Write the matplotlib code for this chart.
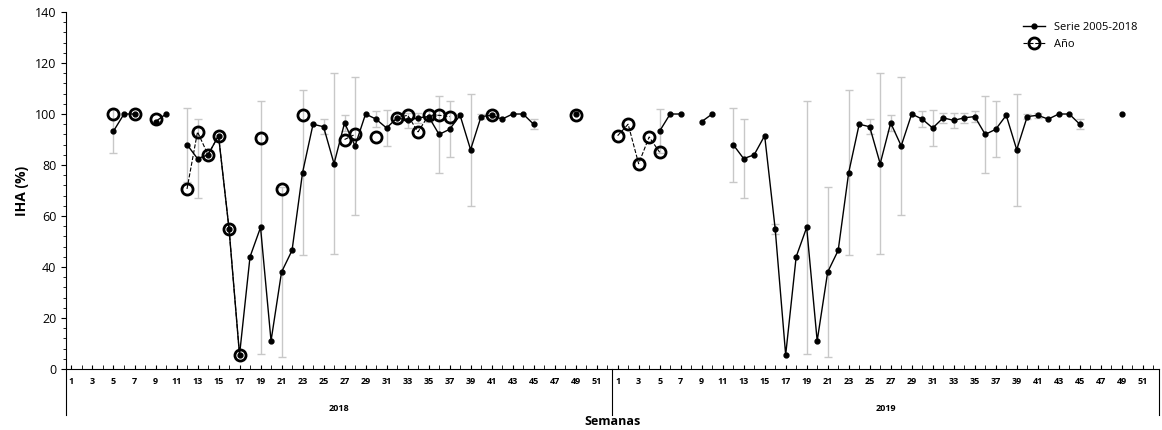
import numpy as np
import matplotlib.pyplot as plt
import matplotlib.transforms as mtransforms

nan = np.nan
weeks = np.arange(1, 53)

# 2005-2018 weekly mean (same pattern for both years)
serie = [nan, nan, nan, nan, 93.3, 100, 100, nan, 97, 100,
         nan, 88, 82.5, 84, 91.5, 55, 5.5, 44, 55.5, 11,
         38, 46.5, 77, 96, 95, 80.5, 96.5, 87.5, 100, 98,
         94.5, 98.5, 97.5, 98.5, 99, 92, 94, 99.5, 86, 99,
         99.5, 98, 100, 100, 96, nan, nan, nan, 100, nan,
         nan, nan]
desv = [0, 0, 0, 0, 8.5, 0, 0, 0, 0, 0,
        0, 14.5, 15.5, 0, 0, 2, 0, 0, 49.5, 0,
        33.5, 0, 32.5, 0, 3, 35.5, 3, 27, 0, 3,
        7, 2, 3, 2, 2, 15, 11, 0, 22, 1,
        1, 0, 0, 0, 2, 0, 0, 0, 0, 0,
        0, 0]

anio_2018 = {5: 100, 7: 100, 9: 98, 12: 70.6, 13: 93, 14: 84, 15: 91.5, 16: 55,
             17: 5.5, 19: 90.5, 21: 70.6, 23: 99.5, 27: 90, 28: 92, 30: 91,
             32: 98.5, 33: 99.5, 34: 93, 35: 99.5, 36: 99.5, 37: 99, 41: 99.5,
             49: 99.5}
anio_2019 = {1: 91.5, 2: 96, 3: 80.5, 4: 91, 5: 85}

years = ['2018', '2019']

x = np.arange(104)
serie_all = np.array(serie + serie, dtype=float)
desv_all = np.array(desv + desv, dtype=float)
anio_all = np.full(104, nan)
for w, v in anio_2018.items():
    anio_all[w - 1] = v
for w, v in anio_2019.items():
    anio_all[52 + w - 1] = v

plt.rcParams['font.family'] = ['Open Sans', 'DejaVu Sans']

fig = plt.figure(figsize=(11.62, 4.3), dpi=100)
ax = fig.add_axes([0.057, 0.142, 0.94, 0.83])

mask = desv_all > 0
ax.errorbar(x[mask], serie_all[mask], yerr=desv_all[mask], fmt='none',
            ecolor='#c8c8c8', elinewidth=1, capsize=3, zorder=1)
ax.plot(x, serie_all, '-o', color='black', lw=1, ms=3.5, zorder=3,
        label='Serie 2005-2018')
ax.plot(x, anio_all, '--o', color='black', lw=0.8, ms=8, mfc='none',
        mew=2, zorder=2, label='Año')

ax.set_xlim(-0.5, 103.5)
ax.set_ylim(0, 140)
ax.set_yticks(np.arange(0, 141, 20))
ax.set_yticks(np.arange(0, 141, 4), minor=True)
ax.tick_params(axis='y', labelsize=9)
ax.set_ylabel('IHA (%)', fontsize=10, fontweight='bold')

lab_pos = [i for i in x if (i % 52) % 2 == 0]
ax.set_xticks(lab_pos)
ax.set_xticklabels([str(i % 52 + 1) for i in lab_pos], fontsize=6.5,
                   fontweight='bold')
ax.set_xticks(x, minor=True)
ax.tick_params(axis='x', which='both', length=3, direction='in', pad=6)

for s in ['top', 'right']:
    ax.spines[s].set_visible(False)

trans = mtransforms.blended_transform_factory(ax.transData, ax.transAxes)
for b in [-0.5, 51.5, 103.5]:
    ax.plot([b, b], [0, -0.13], color='black', lw=0.8, transform=trans,
            clip_on=False)
for i, yr in enumerate(years):
    ax.text(25.5 + 52 * i, -0.11, yr, transform=trans, ha='center',
            va='center', fontsize=6.5, fontweight='bold')
ax.text(51.5, -0.148, 'Semanas', transform=trans, ha='center', va='center',
        fontsize=9, fontweight='bold')

ax.legend(loc='upper right', frameon=False, fontsize=8,
          bbox_to_anchor=(0.99, 1.0))

fig.savefig('out.png', dpi=100)
